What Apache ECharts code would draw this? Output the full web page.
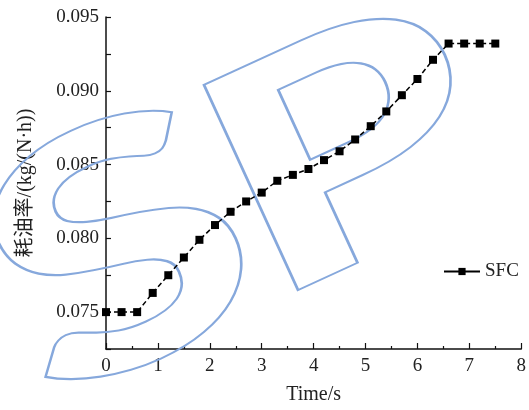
<!DOCTYPE html>
<html><head><meta charset="utf-8">
<script src="https://cdn.jsdelivr.net/npm/echarts@6/dist/echarts.min.js"></script>
<style>html,body{margin:0;padding:0;background:#fff}#c{width:529px;height:410px}</style>
</head><body><div id="c"></div>
<script>
const timeValues = [0,0.3,0.6,0.9,1.2,1.5,1.8,2.1,2.4,2.7,3.0,3.3,3.6,3.9,4.2,4.5,4.8,5.1,5.4,5.7,6.0,6.3,6.6,6.9,7.2,7.5];
const sfcValues = [0.0750,0.0750,0.0750,0.0763,0.0775,0.0787,0.0799,0.0809,0.0818,0.0825,0.0831,0.0839,0.0843,0.0847,0.0853,0.0859,0.0867,0.0876,0.0886,0.0897,0.0908,0.0921,0.0932,0.0932,0.0932,0.0932];
const seriesName = 'SFC';
const xAxisTitle = 'Time/s';
const yAxisTitle = '耗油率/(kg/(N·h))';
const watermarkText = ['S','P'];

const serif = '"Liberation Serif","Noto Sans CJK SC",serif';
const chart = echarts.init(document.getElementById('c'), null, {renderer:'canvas'});
const wmBase = {fill:'none', stroke:'#86a8dc', lineWidth:2, fontFamily:'Lato,"Liberation Sans",sans-serif', fontWeight:900, textVerticalAlign:'bottom', textAlign:'left'};
chart.setOption({
  animation:false,
  backgroundColor:'#fff',
  grid:{left:106,right:6,top:17,bottom:60,containLabel:false},
  xAxis:{type:'value',min:0,max:8,interval:1,
    name:xAxisTitle,nameLocation:'middle',nameGap:36,
    nameTextStyle:{fontFamily:serif,fontSize:20,color:'#222'},
    axisLine:{show:true,lineStyle:{color:'#111',width:1.5}},
    axisTick:{show:true,inside:true,length:6,lineStyle:{color:'#111',width:1.2}},
    minorTick:{show:true,splitNumber:2,length:3,lineStyle:{color:'#111',width:1.2}},
    splitLine:{show:false},
    axisLabel:{fontFamily:serif,fontSize:19,color:'#222',margin:8}
  },
  yAxis:{type:'value',min:0.0725,max:0.095,interval:0.0025,
    name:yAxisTitle,nameLocation:'middle',nameGap:70,nameRotate:90,
    nameTextStyle:{fontFamily:serif,fontSize:20,color:'#222'},
    axisLine:{show:true,lineStyle:{color:'#111',width:1.5}},
    axisTick:{show:true,inside:true,length:5,lineStyle:{color:'#111',width:1.2}},
    splitLine:{show:false},
    axisLabel:{fontFamily:serif,fontSize:19,color:'#222',margin:7,
      formatter:function(v){const k=v*200;return Math.abs(k-Math.round(k))<1e-6?v.toFixed(3):'';}}
  },
  legend:{show:true,left:438,top:257,itemWidth:36,itemHeight:9,itemGap:10,
    lineStyle:{type:'solid',width:2},
    textStyle:{fontFamily:serif,fontSize:19,color:'#222'},data:[seriesName]},
  graphic:[
    {type:'text',x:291,y:354,rotation:0.43,scaleX:1.4,scaleY:1,z:1,silent:true,
      style:Object.assign({text:watermarkText[1],fontSize:311},wmBase)},
    {type:'text',x:74,y:460,rotation:0.43,scaleX:1.4,scaleY:1,z:1,silent:true,
      style:Object.assign({text:watermarkText[0],fontSize:330},wmBase)}
  ],
  series:[{name:seriesName,type:'line',z:5,data:timeValues.map((t,i)=>[t,sfcValues[i]]),
    symbol:'rect',symbolSize:8,itemStyle:{color:'#000'},
    lineStyle:{color:'#000',width:1.5,type:[5,3]}}]
});
</script></body></html>
